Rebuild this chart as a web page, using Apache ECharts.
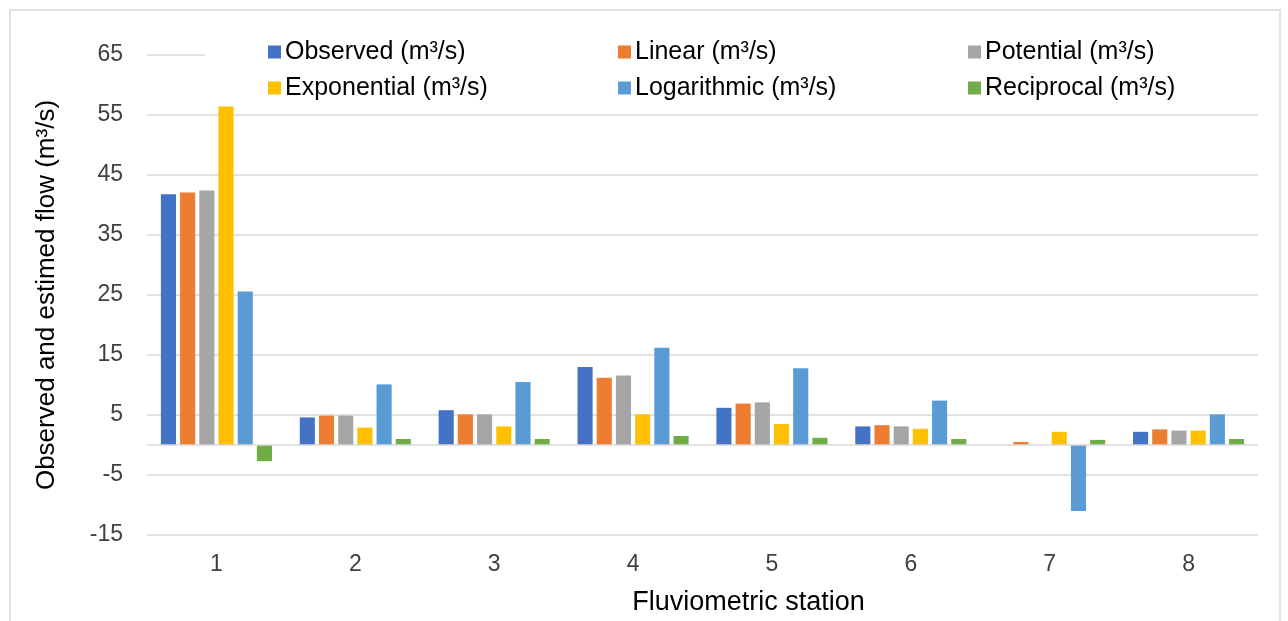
<!DOCTYPE html>
<html>
<head>
<meta charset="utf-8">
<script src="https://cdn.jsdelivr.net/npm/echarts@6/dist/echarts.min.js"></script>
<style>html,body{margin:0;padding:0;background:#fff;}#c{width:1288px;height:621px;}</style>
</head>
<body>
<div id="c"></div>
<script>
const stations = ['1', '2', '3', '4', '5', '6', '7', '8'];
const observed = [41.8, 4.6, 5.8, 13.0, 6.2, 3.1, null, 2.2];
const linear = [42.1, 4.9, 5.1, 11.2, 6.9, 3.3, 0.5, 2.6];
const potential = [42.4, 4.9, 5.1, 11.6, 7.1, 3.1, null, 2.4];
const exponential = [56.4, 2.9, 3.1, 5.1, 3.5, 2.7, 2.2, 2.4];
const logarithmic = [25.6, 10.1, 10.5, 16.2, 12.8, 7.4, -11.0, 5.1];
const reciprocal = [-2.7, 1.0, 1.0, 1.5, 1.2, 1.0, 0.85, 1.0];
const seriesNames = ['Observed (m³/s)', 'Linear (m³/s)', 'Potential (m³/s)', 'Exponential (m³/s)', 'Logarithmic (m³/s)', 'Reciprocal (m³/s)'];
const colors = ['#4472C4', '#ED7D31', '#A5A5A5', '#FFC000', '#5B9BD5', '#70AD47'];
const seriesData = [observed, linear, potential, exponential, logarithmic, reciprocal];

const FONT = '"Liberation Sans", Arial, sans-serif';
const chart = echarts.init(document.getElementById('c'), null, {renderer: 'canvas'});

const series = seriesNames.map((n, i) => {
  const s = {
    name: n,
    type: 'bar',
    data: seriesData[i],
    itemStyle: {color: colors[i]},
    barGap: '27%',
    barCategoryGap: '20%'
  };
  if (i === 0) {
    s.markLine = {
      silent: true,
      symbol: 'none',
      label: {show: false},
      lineStyle: {color: '#d9d9d9', type: 'solid', width: 1.5},
      data: [{yAxis: 0}],
      animation: false
    };
  }
  return s;
});

chart.setOption({
  animation: false,
  color: colors,
  textStyle: {fontFamily: FONT},
  graphic: [{
    type: 'rect',
    shape: {x: 10, y: 10, width: 1270, height: 620},
    style: {fill: 'none', stroke: '#d9d9d9', lineWidth: 1.5},
    z: 100,
    silent: true
  }],
  legend: {
    left: 205,
    top: 34,
    width: 1080,
    padding: [0, 0, 0, 63],
    itemGap: 0,
    itemWidth: 13,
    itemHeight: 13,
    icon: 'rect',
    backgroundColor: '#ffffff',
    textStyle: {fontFamily: FONT, fontSize: 25, color: '#000', width: 333, lineHeight: 36, padding: [0, 0, 0, -1]},
    data: seriesNames
  },
  grid: {left: 147, right: 30, top: 55, bottom: 86, containLabel: false},
  xAxis: {
    type: 'category',
    data: stations,
    axisLine: {show: false, onZero: false},
    axisTick: {show: false},
    axisLabel: {fontFamily: FONT, fontSize: 23, color: '#404040', margin: 18},
    name: 'Fluviometric station',
    nameLocation: 'middle',
    nameGap: 54,
    nameTextStyle: {fontFamily: FONT, fontSize: 27, color: '#000', padding: [0, 0, 0, 92]}
  },
  yAxis: {
    type: 'value',
    min: -15,
    max: 65,
    interval: 10,
    axisLine: {show: false},
    axisTick: {show: false},
    axisLabel: {fontFamily: FONT, fontSize: 23, color: '#404040', margin: 24},
    splitLine: {lineStyle: {color: '#d9d9d9', width: 1.5}},
    name: 'Observed and estimed flow (m³/s)',
    nameLocation: 'middle',
    nameGap: 87,
    nameTextStyle: {fontFamily: FONT, fontSize: 26, color: '#000'}
  },
  series: series
});
</script>
</body>
</html>
